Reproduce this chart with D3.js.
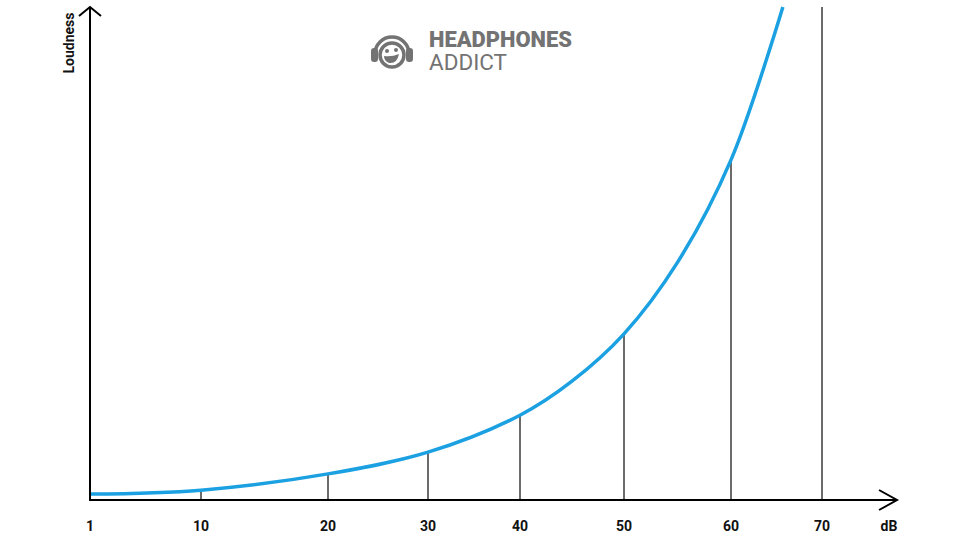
<!DOCTYPE html>
<meta charset="utf-8">
<script src="https://cdn.jsdelivr.net/npm/d3@7"></script>
<style>
body { margin: 0; background: #fff; font-family: Roboto, "Open Sans", sans-serif; }
.lbl { font-size: 14px; font-weight: 700; fill: #111; }
</style>
<body>
<script>

// data
var tickDb = [1, 10, 20, 30, 40, 50, 60, 70];
var tickLabels = ["1", "10", "20", "30", "40", "50", "60", "70"];
var curveDb = [1, 10, 20, 30, 40, 45, 50, 55, 60, 65.7];
var curveLoud = [1.2, 2.0, 5.3, 9.7, 17.2, 24.1, 33.7, 48.2, 69.0, 100];
var guideDb = [10, 20, 30, 40, 50, 60, 70];

// layout
var w = 960, h = 540;
var tickPx = [90, 201, 328, 428, 520, 624, 731, 822]; // axis is not evenly spaced in the original
var base = 500, yTop = 7;

var svg = d3.select("body").append("svg")
    .attr("width", w).attr("height", h);

var x = d3.scaleLinear().domain(tickDb).range(tickPx);
var y = d3.scaleLinear().domain([0, 100]).range([base, yTop]);

var pts = curveDb.map(function(d, i) { return [d, curveLoud[i]]; });

function loudAt(db) {
  if (db > curveDb[curveDb.length - 1]) return 100;
  var i = curveDb.indexOf(db);
  return curveLoud[i];
}

// guide lines
svg.append("g").selectAll("line")
  .data(guideDb)
  .enter().append("line")
    .attr("x1", function(d) { return x(d); })
    .attr("x2", function(d) { return x(d); })
    .attr("y1", base)
    .attr("y2", function(d) { return y(loudAt(d)); })
    .attr("stroke", "#3a3a3a")
    .attr("stroke-width", 1.5);

// curve
var line = d3.line()
    .x(function(d) { return x(d[0]); })
    .y(function(d) { return y(d[1]); })
    .curve(d3.curveCatmullRom.alpha(0.5));

svg.append("path")
    .datum(pts)
    .attr("d", line)
    .attr("fill", "none")
    .attr("stroke", "#1ba1e2")
    .attr("stroke-width", 3.5);

// axes
var ax = svg.append("g").attr("stroke", "#000").attr("stroke-width", 2).attr("fill", "none");
ax.append("line").attr("x1", x(1)).attr("x2", x(1)).attr("y1", base + 1).attr("y2", yTop);
ax.append("line").attr("x1", x(1) - 1).attr("x2", 897).attr("y1", base).attr("y2", base);
ax.append("path").attr("d", "M" + (x(1) - 11) + "," + (yTop + 9) + "L" + x(1) + "," + yTop + "L" + (x(1) + 11) + "," + (yTop + 9));
ax.append("path").attr("d", "M879," + (base - 10) + "L897," + base + "L879," + (base + 10));

svg.append("g").selectAll("text")
  .data(tickDb)
  .enter().append("text")
    .attr("class", "lbl")
    .attr("x", function(d) { return x(d); })
    .attr("y", 531)
    .attr("text-anchor", "middle")
    .text(function(d, i) { return tickLabels[i]; });

svg.append("text").attr("class", "lbl")
    .attr("x", 889).attr("y", 531).attr("text-anchor", "middle").text("dB");

svg.append("text").attr("class", "lbl")
    .attr("transform", "translate(74,43) rotate(-90)")
    .attr("text-anchor", "middle").text("Loudness");

// logo
var logo = svg.append("g").attr("fill", "#737373");
var ic = logo.append("g").attr("transform", "translate(392,52)");
ic.append("path").attr("d", "M-17,2 A17,17 0 0 1 17,2").attr("fill", "none")
    .attr("stroke", "#737373").attr("stroke-width", 3.5);
ic.append("circle").attr("r", 12).attr("cy", 3).attr("fill", "none")
    .attr("stroke", "#737373").attr("stroke-width", 3.5);
ic.append("rect").attr("x", -21).attr("y", -4).attr("width", 7).attr("height", 14).attr("rx", 3);
ic.append("rect").attr("x", 14).attr("y", -4).attr("width", 7).attr("height", 14).attr("rx", 3);
ic.append("circle").attr("cx", -5).attr("cy", -1).attr("r", 2);
ic.append("circle").attr("cx", 4).attr("cy", -2).attr("r", 2);
ic.append("path").attr("d", "M-8,4 Q0,5 7,2 Q5,12 -3,11 Q-8,9 -8,4Z");

logo.append("text").attr("x", 429).attr("y", 47)
    .attr("font-size", 22).attr("font-weight", 900)
    .attr("textLength", 143).attr("lengthAdjust", "spacingAndGlyphs")
    .text("HEADPHONES");
logo.append("text").attr("x", 429).attr("y", 70)
    .attr("font-size", 22).attr("font-weight", 400)
    .attr("textLength", 78).attr("lengthAdjust", "spacingAndGlyphs")
    .text("ADDICT");

</script>
</body>
